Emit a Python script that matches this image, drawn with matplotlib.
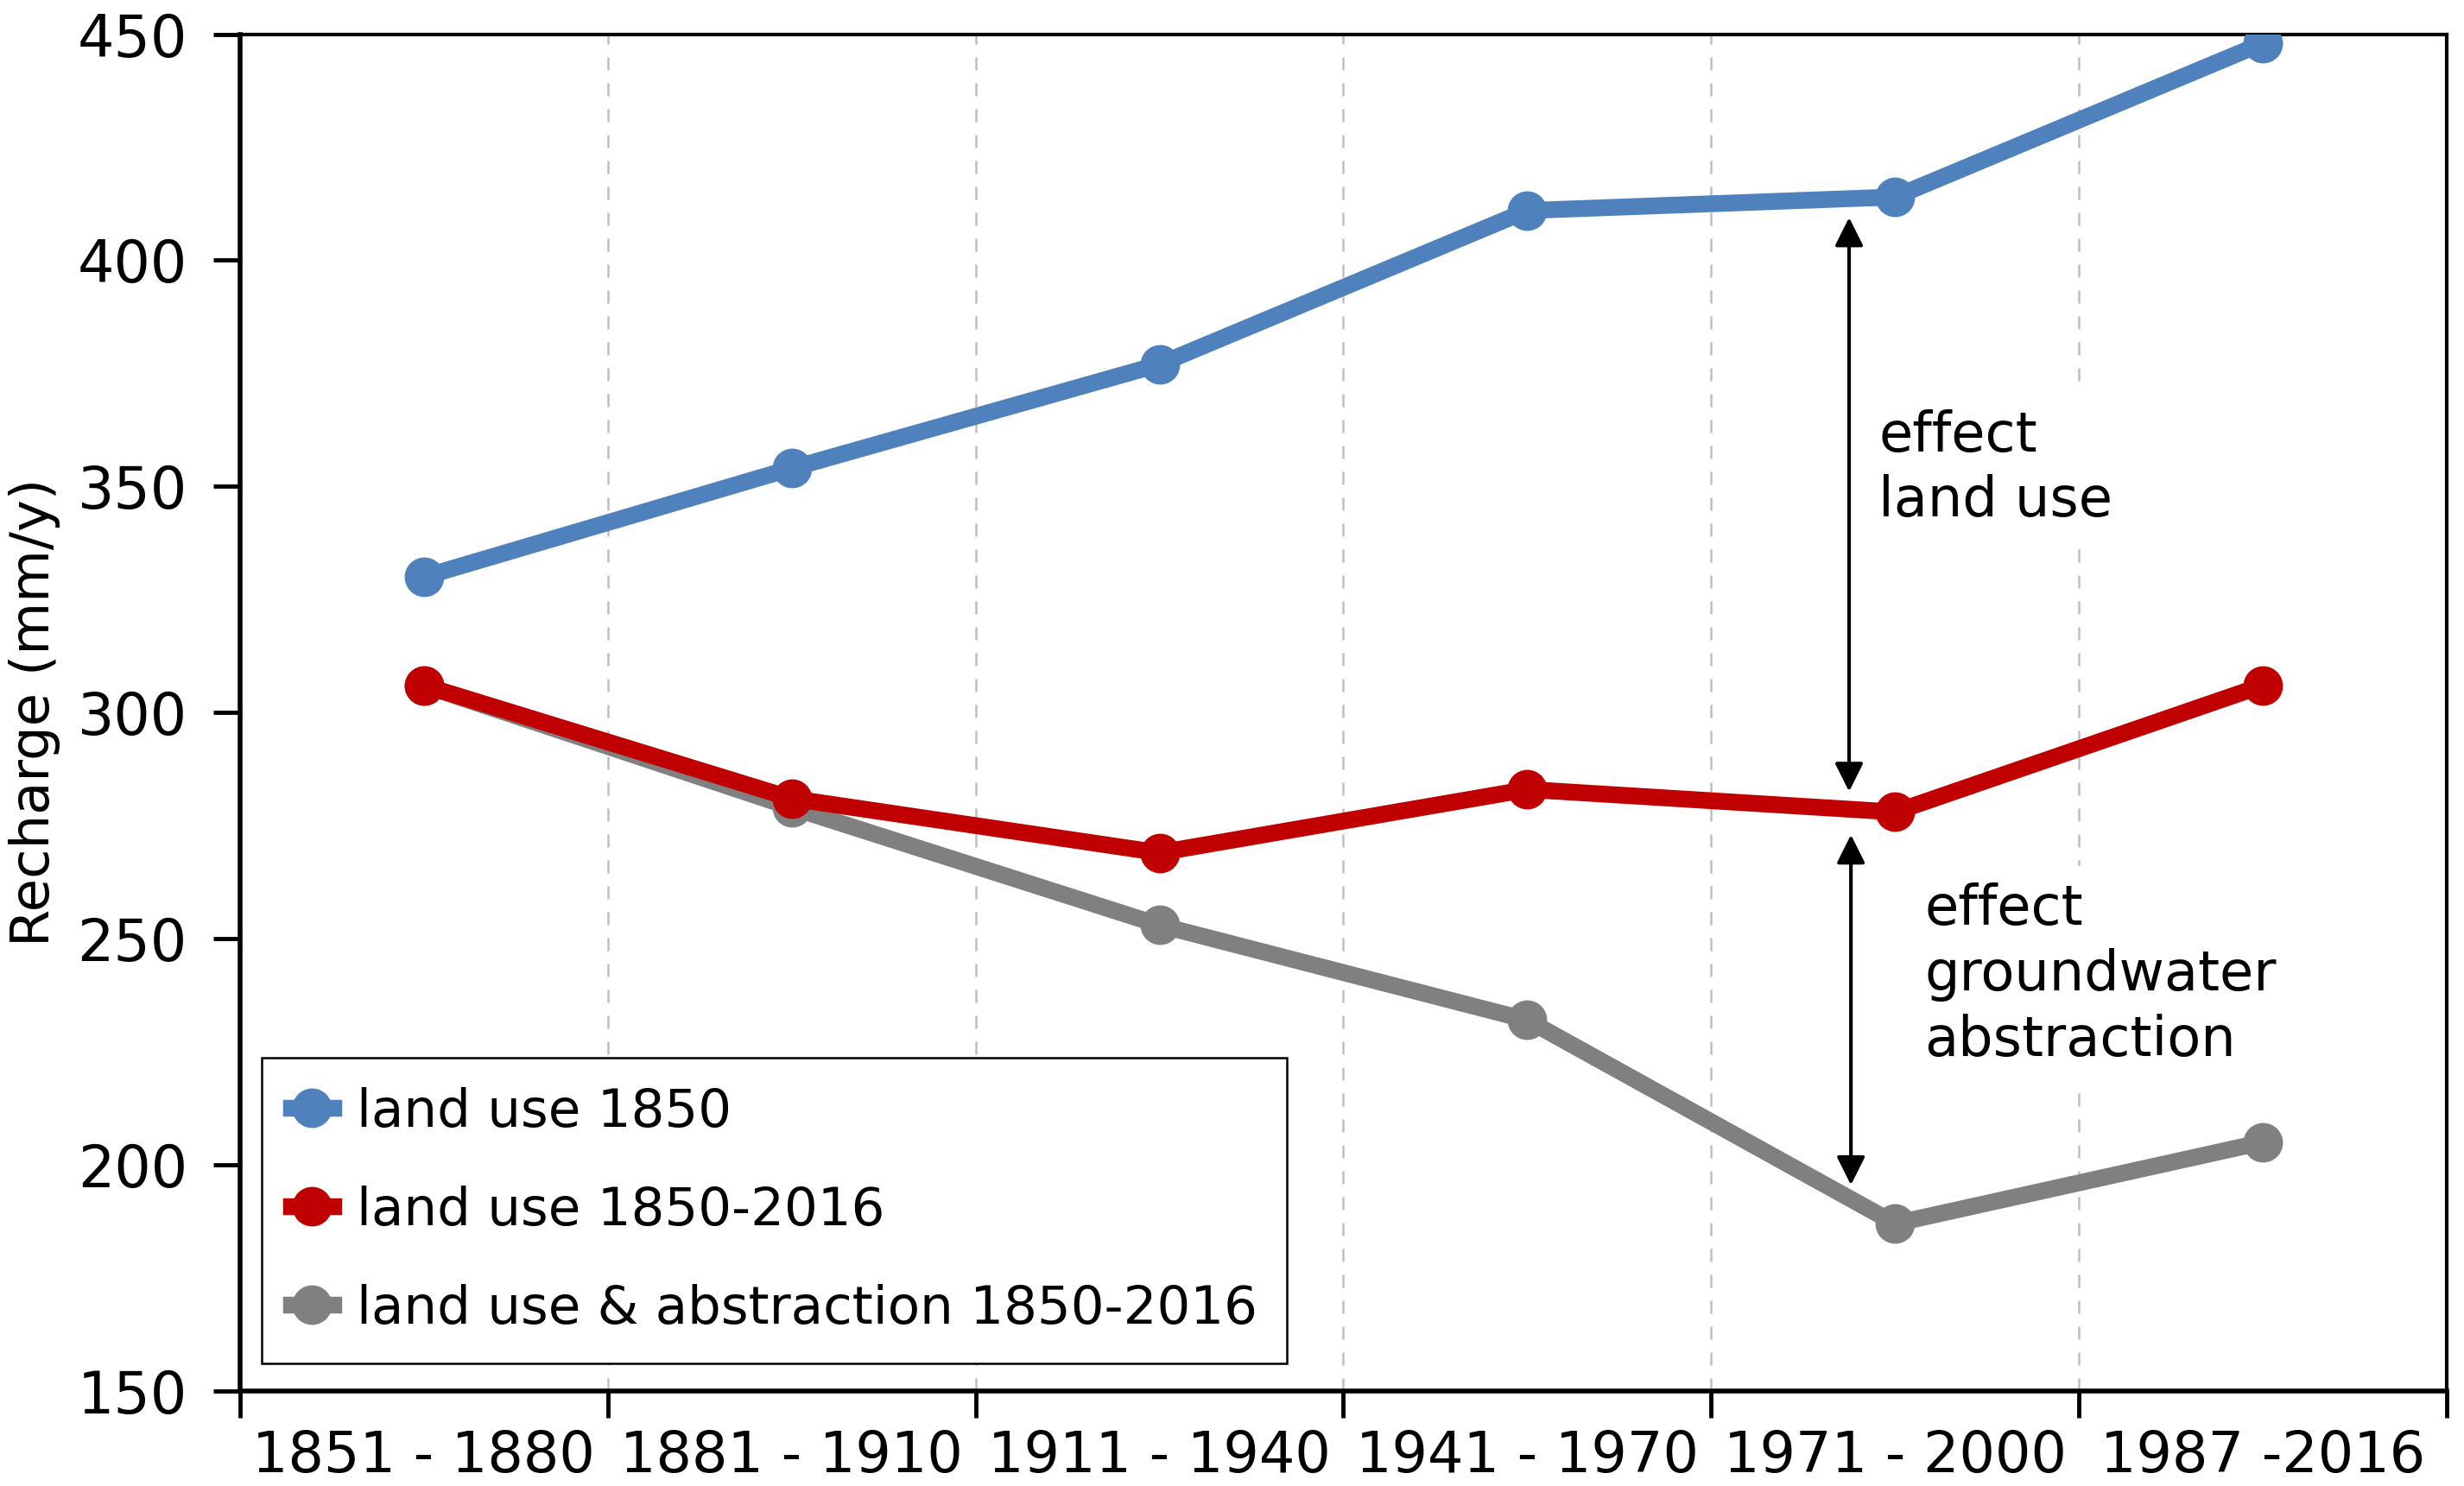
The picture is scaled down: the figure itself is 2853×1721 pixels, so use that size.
import numpy as np
import matplotlib.pyplot as plt

periods = ['1851 - 1880', '1881 - 1910', '1911 - 1940', '1941 - 1970', '1971 - 2000', '1987 -2016']
land_use_1850 = [330, 354, 377, 411, 414, 448]
land_use_1850_2016 = [306, 281, 269, 283, 278, 306]
land_use_abstraction = [306, 279, 253, 232, 187, 205]

plt.rcParams['font.family'] = ['DejaVu Sans']

fig = plt.figure(figsize=(28.53, 17.21), dpi=100)
ax = fig.add_axes([0.0974, 0.064, 0.8956, 0.913])

x = np.arange(len(periods))
ax.plot(x, land_use_1850, color='#4f81bd', lw=14, marker='o', ms=32, label='land use 1850', zorder=4)
ax.plot(x, land_use_1850_2016, color='#c00000', lw=14, marker='o', ms=32, label='land use 1850-2016', zorder=3)
ax.plot(x, land_use_abstraction, color='#808080', lw=14, marker='o', ms=32,
        label='land use & abstraction 1850-2016', zorder=2)

ax.set_xlim(-0.5, len(periods) - 0.5)
ax.set_ylim(150, 450)
ax.set_yticks(np.arange(150, 451, 50))

# boundary ticks + dashed grid, labels centred on categories
bounds = np.arange(len(periods) + 1) - 0.5
ax.set_xticks(bounds)
ax.set_xticklabels([''] * len(bounds))
ax.set_xticks(x, minor=True)
ax.set_xticklabels(periods, minor=True)
ax.tick_params(axis='x', which='minor', length=0, pad=32, labelsize=47)
ax.tick_params(axis='x', which='major', length=22, width=3.5, direction='out')
ax.tick_params(axis='y', length=22, width=3.5, direction='out', pad=22, labelsize=48)
ax.xaxis.grid(True, which='major', ls=(0, (6, 6)), color='#bfbfbf', lw=1.8)

for s in ['left', 'bottom']:
    ax.spines[s].set_linewidth(4)
for s in ['top', 'right']:
    ax.spines[s].set_linewidth(3)

ax.set_ylabel('Recharge (mm/y)', fontsize=45, labelpad=14)

# effect arrows
ax.annotate('', xy=(3.875, 410), xytext=(3.875, 282),
            arrowprops=dict(arrowstyle='<|-|>', color='black', lw=3, mutation_scale=50), zorder=5)
ax.annotate('', xy=(3.88, 273.5), xytext=(3.88, 195),
            arrowprops=dict(arrowstyle='<|-|>', color='black', lw=3, mutation_scale=50), zorder=5)

ax.text(3.955, 354, 'effect\nland use', fontsize=46, va='center', ha='left', linespacing=1.28,
        bbox=dict(facecolor='white', edgecolor='none', pad=14), zorder=3)
ax.text(4.08, 242, 'effect\ngroundwater\nabstraction', fontsize=46, va='center', ha='left',
        linespacing=1.28, bbox=dict(facecolor='white', edgecolor='none', pad=14), zorder=3)

leg = ax.legend(loc='lower left', bbox_to_anchor=(0.01, 0.02), fontsize=44, fancybox=False,
                edgecolor='black', framealpha=1, handlelength=0.8, handletextpad=0.45,
                labelspacing=0.9, borderpad=0.55, borderaxespad=0)
leg.get_frame().set_linewidth(1.8)

fig.savefig('out.png', dpi=100)
